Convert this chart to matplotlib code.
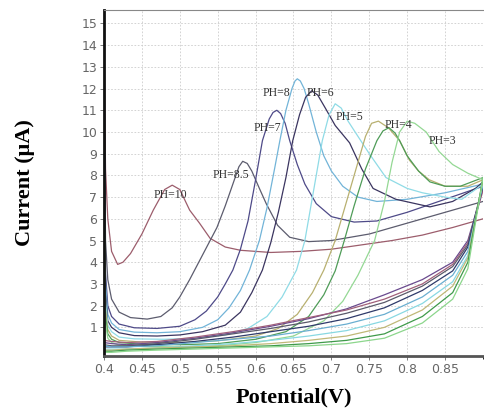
import matplotlib
matplotlib.use('Agg')
import matplotlib.pyplot as plt
from matplotlib.ticker import MultipleLocator

# forward scans (potential V, current uA), one pair per pH
ph10_v = [0.400, 0.402, 0.405, 0.41, 0.418, 0.425, 0.435, 0.45, 0.465, 0.48, 0.49, 0.50, 0.513, 0.526, 0.54,
          0.56, 0.58, 0.62, 0.66, 0.70, 0.74, 0.78, 0.82, 0.86, 0.90]
ph10_i = [14.2, 8.3, 6.0, 4.5, 3.9, 4.0, 4.4, 5.3, 6.4, 7.35, 7.55, 7.35, 6.4, 5.8, 5.1,
          4.7, 4.55, 4.45, 4.5, 4.6, 4.8, 5.0, 5.25, 5.6, 6.0]

ph85_v = [0.400, 0.402, 0.405, 0.41, 0.42, 0.435, 0.457, 0.475, 0.49, 0.50, 0.513, 0.525, 0.537, 0.549, 0.56,
          0.57, 0.578, 0.583, 0.589, 0.595, 0.605, 0.614, 0.629, 0.645, 0.67, 0.70, 0.75, 0.80, 0.85, 0.90]
ph85_i = [13.0, 5.0, 3.2, 2.3, 1.7, 1.45, 1.38, 1.5, 1.9, 2.4, 3.2, 4.0, 4.8, 5.6, 6.6,
          7.6, 8.4, 8.65, 8.55, 8.2, 7.4, 6.7, 5.7, 5.15, 4.95, 5.0, 5.3, 5.8, 6.3, 6.8]

ph7_v = [0.400, 0.402, 0.405, 0.41, 0.42, 0.44, 0.47, 0.50, 0.52, 0.535, 0.55, 0.56, 0.57, 0.58, 0.59,
         0.60, 0.609, 0.618, 0.623, 0.628, 0.633, 0.639, 0.645, 0.655, 0.665, 0.68, 0.70, 0.73, 0.76, 0.80,
         0.85, 0.90]
ph7_i = [12.0, 3.5, 2.0, 1.5, 1.15, 0.98, 0.95, 1.05, 1.35, 1.75, 2.4, 3.0, 3.64, 4.6, 5.9,
         7.8, 9.6, 10.6, 10.9, 11.0, 10.85, 10.4, 9.6, 8.5, 7.6, 6.7, 6.1, 5.85, 5.9, 6.3,
         6.9, 7.5]

ph8_v = [0.400, 0.402, 0.405, 0.41, 0.42, 0.44, 0.47, 0.50, 0.53, 0.55, 0.565, 0.58, 0.592, 0.605, 0.615,
         0.625, 0.632, 0.64, 0.648, 0.652, 0.655, 0.659, 0.664, 0.67, 0.68, 0.69, 0.70, 0.715, 0.735, 0.76,
         0.80, 0.85, 0.90]
ph8_i = [11.0, 3.0, 1.6, 1.2, 0.9, 0.78, 0.75, 0.8, 1.0, 1.35, 1.9, 2.7, 3.64, 5.0, 6.5,
         8.3, 9.6, 11.0, 12.0, 12.35, 12.45, 12.35, 12.0, 11.3, 10.0, 8.9, 8.2, 7.5, 7.0, 6.8,
         6.9, 7.2, 7.6]

ph6_v = [0.400, 0.402, 0.405, 0.41, 0.42, 0.44, 0.47, 0.50, 0.53, 0.56, 0.58, 0.595, 0.609, 0.62, 0.63,
         0.64, 0.649, 0.658, 0.666, 0.674, 0.682, 0.692, 0.705, 0.724, 0.74, 0.755, 0.785, 0.83, 0.86, 0.89,
         0.90]
ph6_i = [10.0, 2.5, 1.3, 1.0, 0.75, 0.62, 0.6, 0.65, 0.8, 1.1, 1.7, 2.6, 3.64, 4.9, 6.3,
         7.9, 9.6, 10.8, 11.6, 11.9, 11.7, 11.1, 10.3, 9.5, 8.3, 7.4, 6.9, 6.55, 6.8, 7.4,
         7.7]

ph5_v = [0.400, 0.402, 0.405, 0.41, 0.42, 0.44, 0.48, 0.52, 0.56, 0.59, 0.615, 0.635, 0.654, 0.665, 0.675,
         0.688, 0.697, 0.705, 0.713, 0.722, 0.735, 0.75, 0.772, 0.80, 0.82, 0.85, 0.872, 0.90]
ph5_i = [9.0, 2.2, 1.1, 0.8, 0.55, 0.47, 0.45, 0.5, 0.65, 0.95, 1.5, 2.4, 3.64, 5.0, 7.0,
         9.6, 10.8, 11.3, 11.1, 10.5, 9.8, 9.0, 7.9, 7.4, 7.2, 7.0, 6.9, 7.6]

ph4a_v = [0.400, 0.402, 0.405, 0.41, 0.42, 0.45, 0.50, 0.55, 0.60, 0.63, 0.655, 0.675, 0.69, 0.705, 0.72,
          0.735, 0.745, 0.753, 0.762, 0.775, 0.79, 0.803, 0.815, 0.829, 0.85, 0.88, 0.90]
ph4a_i = [8.0, 1.8, 0.9, 0.6, 0.4, 0.32, 0.3, 0.38, 0.6, 0.95, 1.6, 2.6, 3.64, 5.0, 6.8,
          8.6, 9.8, 10.4, 10.5, 10.2, 9.6, 8.7, 8.2, 7.8, 7.5, 7.5, 7.8]

ph4b_v = [0.400, 0.402, 0.405, 0.41, 0.42, 0.45, 0.50, 0.55, 0.60, 0.64, 0.67, 0.69, 0.705, 0.717, 0.73,
          0.745, 0.76, 0.768, 0.776, 0.784, 0.79, 0.80, 0.815, 0.83, 0.85, 0.87, 0.90]
ph4b_i = [7.0, 1.5, 0.7, 0.45, 0.3, 0.22, 0.2, 0.25, 0.45, 0.8, 1.5, 2.5, 3.6, 5.0, 6.6,
          8.3, 9.6, 10.05, 10.2, 9.95, 9.6, 8.9, 8.2, 7.7, 7.5, 7.5, 7.9]

ph3_v = [0.400, 0.402, 0.405, 0.41, 0.42, 0.45, 0.50, 0.55, 0.60, 0.65, 0.69, 0.715, 0.735, 0.757, 0.77,
         0.78, 0.79, 0.80, 0.81, 0.825, 0.842, 0.86, 0.88, 0.90]
ph3_i = [6.0, 1.2, 0.5, 0.3, 0.18, 0.12, 0.1, 0.15, 0.3, 0.6, 1.3, 2.2, 3.4, 5.0, 6.8,
         8.6, 10.0, 10.5, 10.4, 10.0, 9.1, 8.5, 8.1, 7.8]

# reverse scans, shared potential grid
rev_v = [0.40, 0.41, 0.43, 0.47, 0.52, 0.57, 0.62, 0.67, 0.72, 0.77, 0.82, 0.86, 0.88, 0.90]
rev_ph7 = [0.3, 0.25, 0.2, 0.3, 0.5, 0.75, 1.05, 1.4, 1.85, 2.5, 3.2, 4.0, 5.0, 7.4]
rev_ph10 = [0.4, 0.35, 0.3, 0.35, 0.55, 0.8, 1.1, 1.45, 1.8, 2.3, 3.0, 3.9, 4.9, 7.3]
rev_ph85 = [0.2, 0.15, 0.15, 0.25, 0.45, 0.7, 0.95, 1.25, 1.65, 2.15, 2.9, 3.8, 4.8, 7.6]
rev_ph6 = [0.1, 0.1, 0.1, 0.2, 0.35, 0.55, 0.8, 1.05, 1.4, 1.9, 2.7, 3.6, 4.7, 7.5]
rev_ph8 = [0.15, 0.1, 0.1, 0.15, 0.3, 0.45, 0.6, 0.85, 1.15, 1.6, 2.4, 3.4, 4.5, 7.6]
rev_ph5 = [0.0, 0.0, 0.0, 0.05, 0.15, 0.25, 0.4, 0.6, 0.85, 1.3, 2.1, 3.1, 4.3, 7.7]
rev_ph4a = [-0.05, -0.05, 0.0, 0.05, 0.1, 0.15, 0.25, 0.4, 0.6, 1.0, 1.8, 2.9, 4.2, 7.8]
rev_ph4b = [-0.1, -0.1, -0.05, 0.0, 0.05, 0.1, 0.15, 0.25, 0.4, 0.7, 1.5, 2.6, 4.0, 7.9]
rev_ph3 = [-0.15, -0.15, -0.1, -0.05, 0.0, 0.05, 0.1, 0.15, 0.25, 0.5, 1.2, 2.3, 3.7, 7.9]

labels = ['PH=10', 'PH=8.5', 'PH=7', 'PH=8', 'PH=6', 'PH=5', 'PH=4', 'PH=3']
label_v = [0.487, 0.567, 0.616, 0.628, 0.686, 0.724, 0.789, 0.846]
label_i = [7.1, 8.0, 10.2, 11.8, 11.8, 10.7, 10.3, 9.6]

x_ticks = [0.4, 0.45, 0.5, 0.55, 0.6, 0.65, 0.7, 0.75, 0.8, 0.85]
x_tick_labels = ['0.4', '0.45', '0.5', '0.55', '0.6', '0.65', '0.7', '0.75', '0.8', '0.85']
y_ticks = list(range(1, 16))

forward = [
    (ph10_v, ph10_i, '#9c5d6c'),
    (ph85_v, ph85_i, '#5c5c6e'),
    (ph7_v, ph7_i, '#4e4a88'),
    (ph8_v, ph8_i, '#72b4d8'),
    (ph6_v, ph6_i, '#3b3560'),
    (ph5_v, ph5_i, '#8fdbe6'),
    (ph4a_v, ph4a_i, '#b8b070'),
    (ph4b_v, ph4b_i, '#4f9c58'),
    (ph3_v, ph3_i, '#94d894'),
]
reverse = [
    (rev_ph7, '#6a4a8e'),
    (rev_ph10, '#a0607a'),
    (rev_ph85, '#5a5a6a'),
    (rev_ph6, '#2f3a6a'),
    (rev_ph8, '#6aaed0'),
    (rev_ph5, '#88d8e2'),
    (rev_ph4a, '#c0b878'),
    (rev_ph4b, '#3f9a4a'),
    (rev_ph3, '#8cd68c'),
]

fig = plt.figure(figsize=(4.85, 4.12), dpi=100)
ax = fig.add_axes([104 / 485, 1 - 356 / 412, 379 / 485, 346 / 412])

for v, i, c in forward:
    ax.plot(v, i, color=c, linewidth=0.9)
for i, c in reverse:
    ax.plot(rev_v, i, color=c, linewidth=0.9)

for t, x, y in zip(labels, label_v, label_i):
    ax.text(x, y, t, fontsize=8.5, family='Liberation Serif', color='#333333',
            ha='center', va='center')

ax.set_xlim(0.4, 0.9)
ax.set_ylim(-0.32, 15.62)
ax.set_xticks(x_ticks)
ax.set_xticklabels(x_tick_labels)
ax.set_yticks(y_ticks)
ax.xaxis.set_minor_locator(MultipleLocator(0.05))
ax.grid(True, color='#cccccc', linestyle=(0, (2, 2)), linewidth=0.6)
ax.set_axisbelow(True)
ax.tick_params(labelsize=9, colors='#666666', length=3, width=0.6, pad=2)

ax.spines['left'].set_linewidth(2)
ax.spines['left'].set_color('#111111')
ax.spines['bottom'].set_linewidth(2)
ax.spines['bottom'].set_color('#555555')
ax.spines['top'].set_color('#888888')
ax.spines['top'].set_linewidth(0.8)
ax.spines['right'].set_visible(False)

fig.text(0.052, 1 - 183 / 412, 'Current (μA)', rotation=90, ha='center', va='center',
         fontsize=16, fontweight='bold', family='Liberation Serif')
fig.text(294 / 485, 1 - 397 / 412, 'Potential(V)', ha='center', va='center',
         fontsize=16, fontweight='bold', family='Liberation Serif')

fig.savefig('out.png', dpi=100)
